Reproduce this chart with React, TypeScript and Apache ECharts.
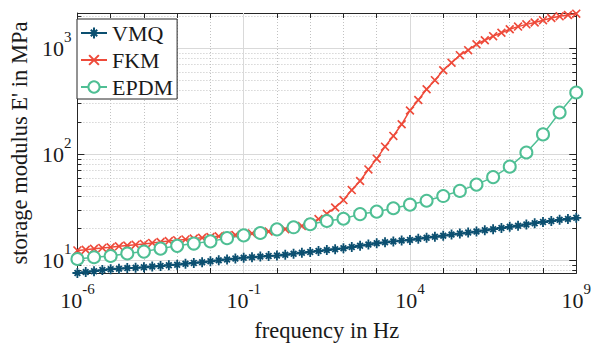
import React, { useEffect, useRef } from 'react';
import * as echarts from 'echarts';

const FONT = "'Liberation Serif', 'Times New Roman', Times, serif";
const TEXT_COLOR = '#1a1a1a';
const AXIS_COLOR = '#262626';

const SERIES_NAMES = ['VMQ', 'FKM', 'EPDM'];
const COLORS = ['#0b4f70', '#ee4a3a', '#4fbf94'];
const X_LABEL_EXPONENTS = [-6, -1, 4, 9];
const X_MAJOR_GRID = [1e-1, 1e4];
const X_TITLE = 'frequency in Hz';
const Y_TITLE = "storage modulus E' in MPa";

// frequency exponents (log10 Hz) of the measured points
const EXP_QUARTER = [
  -6, -5.75, -5.5, -5.25, -5, -4.75, -4.5, -4.25, -4, -3.75, -3.5, -3.25,
  -3, -2.75, -2.5, -2.25, -2, -1.75, -1.5, -1.25, -1, -0.75, -0.5, -0.25,
  0, 0.25, 0.5, 0.75, 1, 1.25, 1.5, 1.75, 2, 2.25, 2.5, 2.75,
  3, 3.25, 3.5, 3.75, 4, 4.25, 4.5, 4.75, 5, 5.25, 5.5, 5.75,
  6, 6.25, 6.5, 6.75, 7, 7.25, 7.5, 7.75, 8, 8.25, 8.5, 8.75, 9,
];
const EXP_HALF = [
  -6, -5.5, -5, -4.5, -4, -3.5, -3, -2.5, -2, -1.5, -1, -0.5, 0, 0.5, 1, 1.5,
  2, 2.5, 3, 3.5, 4, 4.5, 5, 5.5, 6, 6.5, 7, 7.5, 8, 8.5, 9,
];

// storage modulus in MPa
const VMQ = [
  7.6, 7.75, 7.9, 8.1,
  8.25, 8.35, 8.45, 8.5,
  8.6, 8.75, 8.85, 9.0,
  9.1, 9.3, 9.45, 9.6,
  9.8, 10.0, 10.2, 10.4,
  10.6, 10.7, 10.85, 11.0,
  11.1, 11.3, 11.55, 11.8,
  12.0, 12.25, 12.5, 12.75,
  13.0, 13.35, 13.75, 14.1,
  14.5, 14.8, 15.1, 15.35,
  15.6, 16.0, 16.35, 16.7,
  17.1, 17.5, 17.9, 18.3,
  18.7, 19.2, 19.7, 20.2,
  20.7, 21.2, 21.8, 22.4,
  23.0, 23.5, 24.1, 24.6,
  25.2,
];
const FKM = [
  12.4, 12.6, 12.85, 13.1,
  13.3, 13.55, 13.8, 14.05,
  14.3, 14.6, 14.9, 15.2,
  15.5, 15.75, 16.05, 16.3,
  16.6, 16.85, 17.1, 17.35,
  17.6, 17.95, 18.3, 18.7,
  19.2, 19.7, 20.3, 21.1,
  22.6, 24.5, 27.5, 31.5,
  37, 46, 56, 72,
  91, 118, 149, 192,
  259, 325, 411, 500,
  620, 730, 860, 960,
  1090, 1190, 1300, 1400,
  1510, 1600, 1680, 1750,
  1840, 1930, 2000, 2060,
  2120,
];
const EPDM = [
  10.3, 10.7, 11.0, 11.6, 12.1, 12.9, 13.7, 14.4, 15.1, 16.2, 17.2, 18.1,
  19.6, 20.5, 21.9, 23.5, 24.7, 27.3, 28.8, 31, 33.5, 36.5, 40.4, 45.2,
  51.8, 61, 76.5, 104, 154, 248, 383,
];

const Y_MIN = 7.6;
const Y_MAX = 2150;

const ASTERISK =
  'path://M4.1,0 L5.9,0 L5.9,10 L4.1,10 Z M0,4.1 L10,4.1 L10,5.9 L0,5.9 Z M2.8,1.5 L8.5,7.2 L7.2,8.5 L1.5,2.8 Z M7.2,1.5 L8.5,2.8 L2.8,8.5 L1.5,7.2 Z';
const CROSS =
  'path://M1.3,0 L10,8.7 L8.7,10 L0,1.3 Z M8.7,0 L10,1.3 L1.3,10 L0,8.7 Z';

const rich = {
  b: { fontSize: 22, fontFamily: FONT, color: TEXT_COLOR, padding: [8, 0, 8, 0], verticalAlign: 'bottom' },
  s: { fontSize: 15, fontFamily: FONT, color: TEXT_COLOR, verticalAlign: 'top' },
};

export default function App() {
  const ref = useRef<HTMLDivElement>(null);
  useEffect(() => {
    if (!ref.current) return;
    const chart = echarts.init(ref.current, null, { renderer: 'svg' });
    const axisLine = { show: true, onZero: false, lineStyle: { color: AXIS_COLOR, width: 1 } };
    const pairs = (xs: number[], ys: number[]) => xs.map((e, i) => [Math.pow(10, e), ys[i]]);

    const yLogCommon = {
      type: 'log',
      logBase: 10,
      min: Y_MIN,
      max: Y_MAX,
      axisLine,
      axisTick: { show: true, inside: true, length: 7, lineStyle: { color: AXIS_COLOR } },
      minorTick: { show: true, splitNumber: 9, length: 4, lineStyle: { color: AXIS_COLOR } },
    };

    const option = {
      animation: false,
      backgroundColor: '#ffffff',
      textStyle: { fontFamily: FONT },
      grid: { left: 69, right: 15, top: 13, bottom: 71, containLabel: false },
      legend: {
        data: SERIES_NAMES,
        orient: 'vertical',
        left: 77,
        top: 19,
        padding: [3, 4, 1, 3],
        itemWidth: 26,
        itemHeight: 14,
        itemGap: 5,
        backgroundColor: '#ffffff',
        borderColor: AXIS_COLOR,
        borderWidth: 1,
        borderRadius: 0,
        selectedMode: false,
        textStyle: { fontSize: 22, fontFamily: FONT, color: TEXT_COLOR },
      },
      xAxis: [
        { type: 'log', logBase: 10, min: 1e-6, max: 1e9, show: false },
        {
          type: 'value',
          min: -6,
          max: 9,
          interval: 1,
          position: 'bottom',
          axisLine,
          axisTick: { show: true, inside: true, length: 5, lineStyle: { color: AXIS_COLOR } },
          axisLabel: {
            margin: 8,
            fontFamily: FONT,
            formatter: (v: number) => (X_LABEL_EXPONENTS.includes(Math.round(v)) ? `{b|10}{s|${Math.round(v)}}` : ''),
            rich,
          },
          splitLine: { show: true, lineStyle: { color: '#c2c2c2', type: [1, 2], width: 1 } },
          name: X_TITLE,
          nameLocation: 'middle',
          nameGap: 46,
          nameTextStyle: { fontSize: 22.5, fontFamily: FONT, color: TEXT_COLOR },
        },
        {
          type: 'value',
          min: -6,
          max: 9,
          interval: 1,
          position: 'top',
          axisLine,
          axisTick: { show: true, inside: true, length: 5, lineStyle: { color: AXIS_COLOR } },
          axisLabel: { show: false },
          splitLine: { show: false },
        },
      ],
      yAxis: [
        {
          ...yLogCommon,
          position: 'left',
          axisLabel: {
            margin: 6,
            fontFamily: FONT,
            formatter: (v: number) => {
              const e = Math.log10(v);
              if (Math.abs(e - Math.round(e)) > 1e-6) return '';
              return `{b|10}{s|${Math.round(e)}}`;
            },
            rich,
          },
          splitLine: { show: true, lineStyle: { color: '#d9d9d9', type: 'solid', width: 1 } },
          minorSplitLine: { show: true, lineStyle: { color: '#c2c2c2', type: [1, 2], width: 1 } },
          name: Y_TITLE,
          nameLocation: 'middle',
          nameGap: 46,
          nameRotate: 90,
          nameTextStyle: { fontSize: 22.5, fontFamily: FONT, color: TEXT_COLOR },
        },
        {
          ...yLogCommon,
          position: 'right',
          axisLabel: { show: false },
          splitLine: { show: false },
          minorSplitLine: { show: false },
        },
      ],
      series: [
        {
          name: SERIES_NAMES[0],
          type: 'line',
          xAxisIndex: 0,
          yAxisIndex: 0,
          data: pairs(EXP_QUARTER, VMQ),
          symbol: ASTERISK,
          symbolSize: 10,
          itemStyle: { color: COLORS[0] },
          lineStyle: { color: COLORS[0], width: 1.5 },
          emphasis: { disabled: true },
          markLine: {
            silent: true,
            z: 1,
            symbol: ['none', 'none'],
            label: { show: false },
            lineStyle: { color: '#d9d9d9', type: 'solid', width: 1 },
            emphasis: { disabled: true },
            data: X_MAJOR_GRID.map((x) => ({ xAxis: x })),
          },
        },
        {
          name: SERIES_NAMES[1],
          type: 'line',
          xAxisIndex: 0,
          yAxisIndex: 0,
          data: pairs(EXP_QUARTER, FKM),
          symbol: CROSS,
          symbolSize: 9,
          itemStyle: { color: COLORS[1] },
          lineStyle: { color: COLORS[1], width: 1.5 },
          emphasis: { disabled: true },
        },
        {
          name: SERIES_NAMES[2],
          type: 'line',
          xAxisIndex: 0,
          yAxisIndex: 0,
          data: pairs(EXP_HALF, EPDM),
          symbol: 'emptyCircle',
          symbolSize: 12,
          itemStyle: { color: COLORS[2], borderWidth: 1.5 },
          lineStyle: { color: COLORS[2], width: 1.5 },
          emphasis: { disabled: true },
        },
      ],
    };
    chart.setOption(option as any);
    return () => chart.dispose();
  }, []);
  return (
    <div
      ref={ref}
      style={{ position: 'fixed', left: 0, top: 0, width: 594, height: 347, background: '#fff' }}
    />
  );
}
